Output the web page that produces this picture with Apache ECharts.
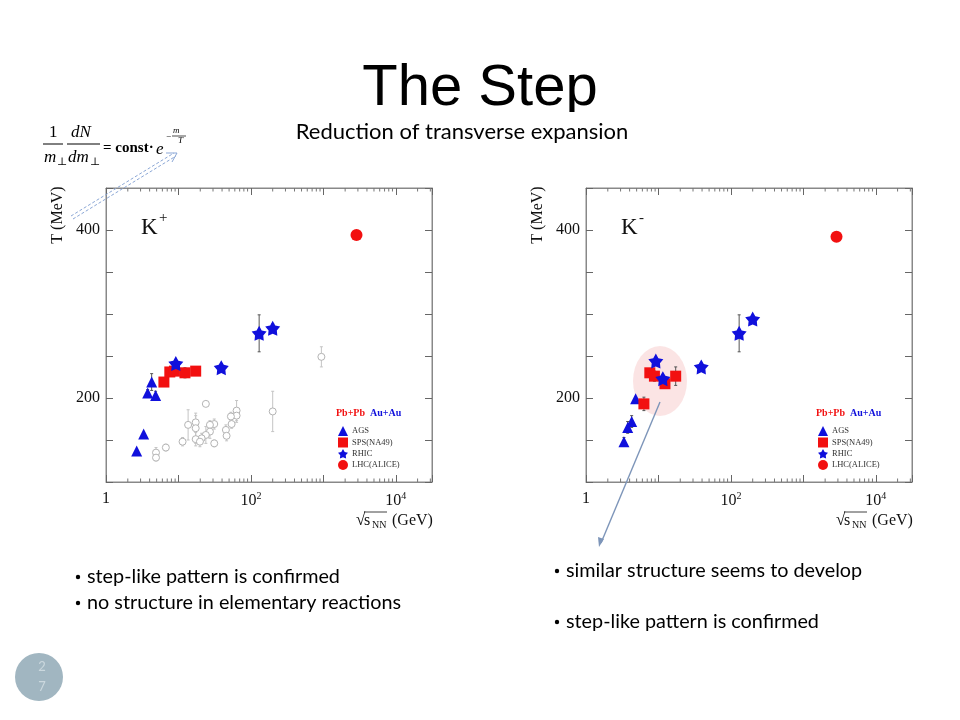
<!DOCTYPE html>
<html>
<head>
<meta charset="utf-8">
<script src="https://cdn.jsdelivr.net/npm/echarts@6/dist/echarts.min.js"></script>
<style>
html,body{margin:0;padding:0;background:#fff;}
#main{width:960px;height:720px;}
</style>
</head>
<body>
<div id="main"></div>
<script>
// ---------------- data: K+ panel ----------------
const kpAgsS = [2.65, 3.31, 3.76, 4.27, 4.84];
const kpAgsT = [137, 157, 206, 219, 203];
const kpAgsE = [0, 0, 4, 10, 5];
const kpSpsS = [6.3, 7.6, 8.8, 12.3, 17.3];
const kpSpsT = [219, 231, 232, 230, 232];
const kpSpsE = [3, 5, 5, 6, 4];
const kpRhicS = [9.2, 39, 130, 200];
const kpRhicT = [241, 236, 277, 283];
const kpRhicE = [3, 3, 22, 5];
const kpLhcS = [2870];
const kpLhcT = [394];
// elementary (p+p) reference points, open grey circles
const ppS = [23.9, 17.3, 13.6, 17.3, 31.2, 27.2, 63.5, 63.5, 53, 54.2, 45.2, 46.2, 27.2, 23.9, 20.9, 17.3, 19.8, 31.2, 11.4, 6.7, 4.9, 4.9, 200, 940];
const ppT = [193, 171, 168, 164, 169, 168, 185, 179, 178, 169, 162, 155, 160, 156, 152, 151, 148, 146, 148, 141, 135, 129, 184, 249];
const ppE = [3, 8, 18, 18, 6, 5, 12, 8, 5, 5, 6, 6, 8, 10, 6, 8, 6, 4, 5, 4, 6, 4, 24, 12];
// ---------------- data: K- panel ----------------
const kmAgsS = [3.34, 3.76, 4.27, 4.84];
const kmAgsT = [148, 165, 172, 199];
const kmAgsE = [5, 7, 7, 0];
const kmSpsS = [6.3, 7.6, 8.8, 12.3, 17.3];
const kmSpsT = [193, 230, 226, 217, 226];
const kmSpsE = [8, 4, 6, 4, 11];
const kmRhicS = [9.2, 11.5, 39, 130, 200];
const kmRhicT = [244, 223, 237, 277, 294];
const kmRhicE = [3, 3, 3, 22, 4];
const kmLhcS = [2870];
const kmLhcT = [392];
// ---------------- axes / labels ----------------
const yLabelTicks = [200, 400];
const xLabelExps = [0, 2, 4];
const legendNames = ['AGS', 'SPS(NA49)', 'RHIC', 'LHC(ALICE)'];

const BLUE = '#1010dc', RED = '#f21010';
const SERIF = '"Liberation Serif", "DejaVu Serif", serif';
const SANS = 'Lato, "Open Sans", sans-serif';

// fit a font size so that text spans a target width (layout only)
const _ctx = document.createElement('canvas').getContext('2d');
function fitSize(text, family, target) {
  _ctx.font = '100px ' + family;
  const w = _ctx.measureText(text).width;
  return Math.round(100 * target / w * 10) / 10;
}

function zip3(a, b, c) { return a.map((v, i) => [v, b[i], c ? c[i] : 0]); }

function starPath() {
  const pts = [];
  for (let i = 0; i < 10; i++) {
    const r = i % 2 ? 0.55 : 1;
    const a = -Math.PI / 2 + i * Math.PI / 5;
    pts.push((50 + 50 * r * Math.cos(a)).toFixed(2) + ',' + (52 + 50 * r * Math.sin(a)).toFixed(2));
  }
  return 'path://M' + pts.join('L') + 'Z';
}
const STAR = starPath();

function errRender(color) {
  return function (params, api) {
    const e = api.value(2);
    if (!e) return null;
    const x = api.value(0), y = api.value(1);
    const lo = api.coord([x, y - e]);
    const hi = api.coord([x, y + e]);
    const st = { stroke: color, lineWidth: 1 };
    return {
      type: 'group', children: [
        { type: 'line', shape: { x1: lo[0], y1: lo[1], x2: hi[0], y2: hi[1] }, style: st },
        { type: 'line', shape: { x1: lo[0] - 1.5, y1: lo[1], x2: lo[0] + 1.5, y2: lo[1] }, style: st },
        { type: 'line', shape: { x1: hi[0] - 1.5, y1: hi[1], x2: hi[0] + 1.5, y2: hi[1] }, style: st }
      ]
    };
  };
}

// minor log tick positions (axis decoration)
const minorTicks = [];
for (let k = 0; k <= 4; k++) for (let m = 2; m <= 9; m++) { const v = m * Math.pow(10, k); if (v < 31600) minorTicks.push([v, 200]); }

function minorRender(params, api) {
  const p = api.coord([api.value(0), api.value(1)]);
  const cs = params.coordSys;
  const st = { stroke: '#777', lineWidth: 1 };
  return {
    type: 'group', children: [
      { type: 'line', shape: { x1: p[0], y1: cs.y + cs.height, x2: p[0], y2: cs.y + cs.height - 3.5 }, style: st },
      { type: 'line', shape: { x1: p[0], y1: cs.y, x2: p[0], y2: cs.y + 3.5 }, style: st }
    ]
  };
}

const grids = [
  { left: 106, top: 188, width: 326, height: 294 },
  { left: 586, top: 188, width: 326, height: 294 }
];

const xAxes = [], yAxes = [];
grids.forEach((g, i) => {
  const common = {
    gridIndex: i, type: 'log', logBase: 10, min: 1, max: 31623,
    axisLine: { onZero: false, lineStyle: { color: '#888', width: 1 } },
    axisTick: { inside: true, length: 7, lineStyle: { color: '#666' } },
    splitLine: { show: false }
  };
  xAxes.push(Object.assign({}, common, {
    position: 'bottom',
    axisLabel: {
      margin: 9, color: '#111', fontFamily: SERIF, fontSize: 16,
      formatter: function (v) {
        const lg = Math.log10(v), e = Math.round(lg);
        if (Math.abs(lg - e) > 1e-6 || xLabelExps.indexOf(e) < 0) return '';
        return e === 0 ? '1' : '10{sup|' + e + '}';
      },
      rich: { sup: { fontSize: 10, fontFamily: SERIF, color: '#111', padding: [0, 0, 10, 0] } }
    }
  }));
  xAxes.push(Object.assign({}, common, { position: 'top', axisLabel: { show: false } }));
  const ycommon = {
    gridIndex: i, type: 'value', min: 100, max: 450, interval: 50,
    axisLine: { onZero: false, lineStyle: { color: '#888', width: 1 } },
    axisTick: { inside: true, length: 7, lineStyle: { color: '#666' } },
    splitLine: { show: false }
  };
  yAxes.push(Object.assign({}, ycommon, {
    position: 'left',
    axisLabel: {
      margin: 6, color: '#111', fontFamily: SERIF, fontSize: 16,
      formatter: v => (yLabelTicks.indexOf(v) >= 0 ? String(v) : '')
    }
  }));
  yAxes.push(Object.assign({}, ycommon, { position: 'right', axisLabel: { show: false } }));
});

function panelSeries(i, d) {
  const xi = 2 * i, yi = 2 * i;
  const base = { xAxisIndex: xi, yAxisIndex: yi };
  const s = [];
  s.push(Object.assign({ type: 'custom', name: 'minor' + i, renderItem: minorRender, data: minorTicks, silent: true, z: 3 }, base));
  if (d.pp) {
    s.push(Object.assign({ type: 'custom', name: 'ppErr' + i, renderItem: errRender('#c4c4c4'), data: d.pp, z: 2 }, base));
    s.push(Object.assign({ type: 'scatter', name: 'p+p', symbol: 'circle', symbolSize: 7, data: d.pp.map(p => [p[0], p[1]]),
      itemStyle: { color: '#fff', borderColor: '#b4b4b4', borderWidth: 1, opacity: 1 }, z: 3 }, base));
  }
  s.push(Object.assign({ type: 'custom', name: 'err' + i, renderItem: errRender('#555'), data: d.ags.concat(d.sps, d.rhic), z: 4 }, base));
  s.push(Object.assign({ type: 'scatter', name: 'AGS', symbol: 'triangle', symbolSize: 11, data: d.ags.map(p => [p[0], p[1]]), itemStyle: { color: BLUE, opacity: 1 }, z: 5 }, base));
  s.push(Object.assign({ type: 'scatter', name: 'SPS(NA49)', symbol: 'rect', symbolSize: 11, data: d.sps.map(p => [p[0], p[1]]), itemStyle: { color: RED, opacity: 1 }, z: 5 }, base));
  s.push(Object.assign({ type: 'scatter', name: 'RHIC', symbol: STAR, symbolSize: 15, data: d.rhic.map(p => [p[0], p[1]]), itemStyle: { color: BLUE, opacity: 1 }, z: 6 }, base));
  s.push(Object.assign({ type: 'scatter', name: 'LHC(ALICE)', symbol: 'circle', symbolSize: 12, data: d.lhc.map(p => [p[0], p[1]]), itemStyle: { color: RED, opacity: 1 }, z: 5 }, base));
  return s;
}

const series = [].concat(
  panelSeries(0, {
    ags: zip3(kpAgsS, kpAgsT, kpAgsE), sps: zip3(kpSpsS, kpSpsT, kpSpsE),
    rhic: zip3(kpRhicS, kpRhicT, kpRhicE), lhc: zip3(kpLhcS, kpLhcT), pp: zip3(ppS, ppT, ppE)
  }),
  panelSeries(1, {
    ags: zip3(kmAgsS, kmAgsT, kmAgsE), sps: zip3(kmSpsS, kmSpsT, kmSpsE),
    rhic: zip3(kmRhicS, kmRhicT, kmRhicE), lhc: zip3(kmLhcS, kmLhcT)
  })
);

const legends = grids.map(g => ({
  left: g.left + 227, top: 421, orient: 'vertical', itemGap: 1.5, itemWidth: 10, itemHeight: 10,
  selectedMode: false, data: legendNames,
  textStyle: { fontFamily: SERIF, fontSize: 8.5, color: '#333', padding: [0, 0, 0, -1] }
}));

// ---------------- decorative / text graphics ----------------
const graphics = [];
function txt(x, y, text, font, fill, align) {
  graphics.push({ type: 'text', x: x, y: y, z: 20,
    style: { text: text, font: font, fill: fill || '#000', align: align || 'left', verticalAlign: 'middle' } });
}
function line(x1, y1, x2, y2, stroke, w, dash, z) {
  graphics.push({ type: 'line', z: z || 20, shape: { x1, y1, x2, y2 },
    style: { stroke: stroke || '#000', lineWidth: w || 1, lineDash: dash || null } });
}

// title
graphics.push({ type: 'text', x: 480, y: 89, z: 20,
  style: { text: 'The Step', font: '58px "Liberation Sans", Arial, sans-serif', fill: '#000', align: 'center', verticalAlign: 'middle' } });
graphics.push({ type: 'rect', z: 21, shape: { x: 340, y: 112, width: 280, height: 8 }, style: { fill: '#fff' } });
const subText = 'Reduction of transverse expansion';
const subSize = fitSize(subText, SANS, 332);
graphics.push({ type: 'text', x: 462, y: 132, z: 22,
  style: { text: subText, font: subSize + 'px ' + SANS, fill: '#000', align: 'center', verticalAlign: 'middle' } });

// formula
txt(49, 133, '1', '17px ' + SERIF);
line(43, 144, 63, 144, '#000', 1);
txt(44, 158, 'm', 'italic 17px ' + SERIF);
txt(57, 162, '⊥', '11px ' + SERIF);
txt(71, 133, 'dN', 'italic 17px ' + SERIF);
line(67, 144, 100, 144, '#000', 1);
txt(68, 158, 'dm', 'italic 17px ' + SERIF);
txt(90, 162, '⊥', '11px ' + SERIF);
txt(103, 148, '= const·', 'bold 15px ' + SERIF);
txt(156, 150, 'e', 'italic 17px ' + SERIF);
txt(166, 137, '−', '9px ' + SERIF);
txt(173, 131, 'm', 'italic 9px ' + SERIF);
line(172, 136, 186, 136, '#000', 0.7);
txt(178, 141, 'T', 'italic 9px ' + SERIF);

// left double dashed arrow
line(71, 216, 174, 153, '#8ba7d6', 1, [3, 2]);
line(73, 219, 176, 156, '#8ba7d6', 1, [3, 2]);
graphics.push({ type: 'polyline', z: 20, shape: { points: [[166, 153], [177, 153], [172, 162]] },
  style: { stroke: '#8ba7d6', lineWidth: 1, fill: null } });

// panel decorations
grids.forEach((g, i) => {
  graphics.push({ type: 'text', x: g.left - 48, y: 215, rotation: Math.PI / 2, z: 20,
    style: { text: 'T (MeV)', font: '16px ' + SERIF, fill: '#111', align: 'center', verticalAlign: 'middle' } });
  txt(g.left + 250, 521, '√', '17px ' + SERIF, '#111');
  line(g.left + 258, 512, g.left + 281, 512, '#111', 0.8);
  txt(g.left + 258, 521, 's', '16px ' + SERIF, '#111');
  txt(g.left + 266, 525, 'NN', '10px ' + SERIF, '#111');
  txt(g.left + 286, 521, '(GeV)', '16px ' + SERIF, '#111');
  txt(g.left + 35, 228, 'K', '23px ' + SERIF, '#111');
  txt(g.left + 53, 218, i === 0 ? '+' : '-', '15px ' + SERIF, '#111');
  txt(g.left + 230, 413, 'Pb+Pb', 'bold 10px ' + SERIF, RED);
  txt(g.left + 264, 413, 'Au+Au', 'bold 10px ' + SERIF, BLUE);
});

// highlight ellipse on K- panel
graphics.push({ type: 'circle', x: 660, y: 381, scaleX: 27 / 35, z: 1, shape: { cx: 0, cy: 0, r: 35 },
  style: { fill: 'rgba(246,196,196,0.45)' } });
// arrow from ellipse
line(660, 402, 601, 543, '#7d95b9', 1.4, null, 25);
graphics.push({ type: 'polygon', z: 25, shape: { points: [[599, 547], [598, 537], [604, 539]] }, style: { fill: '#7d95b9' } });

// bullets
const bulletSize = fitSize('no structure in elementary reactions', SANS, 314);
const bulletFont = bulletSize + 'px ' + SANS;
function bullet(x, y, text) {
  graphics.push({ type: 'circle', z: 20, shape: { cx: x + 3, cy: y, r: 2.2 }, style: { fill: '#000' } });
  txt(x + 12, y, text, bulletFont, '#000');
}
bullet(75, 577, 'step-like pattern is confirmed');
bullet(75, 603, 'no structure in elementary reactions');
bullet(554, 571, 'similar structure seems to develop');
bullet(554, 622, 'step-like pattern is confirmed');

// slide number
graphics.push({ type: 'circle', z: 20, shape: { cx: 39, cy: 677, r: 24 }, style: { fill: '#a1b6c1' } });
txt(42, 667, '2', '13px ' + SANS, '#cbd8de', 'center');
txt(42, 687, '7', '13px ' + SANS, '#cbd8de', 'center');

const chart = echarts.init(document.getElementById('main'));
chart.setOption({
  animation: false,
  backgroundColor: '#fff',
  grid: grids.map(g => Object.assign({ show: true, borderColor: '#888', borderWidth: 1, backgroundColor: 'transparent' }, g)),
  xAxis: xAxes,
  yAxis: yAxes,
  legend: legends,
  series: series,
  graphic: graphics
});
</script>
</body>
</html>
